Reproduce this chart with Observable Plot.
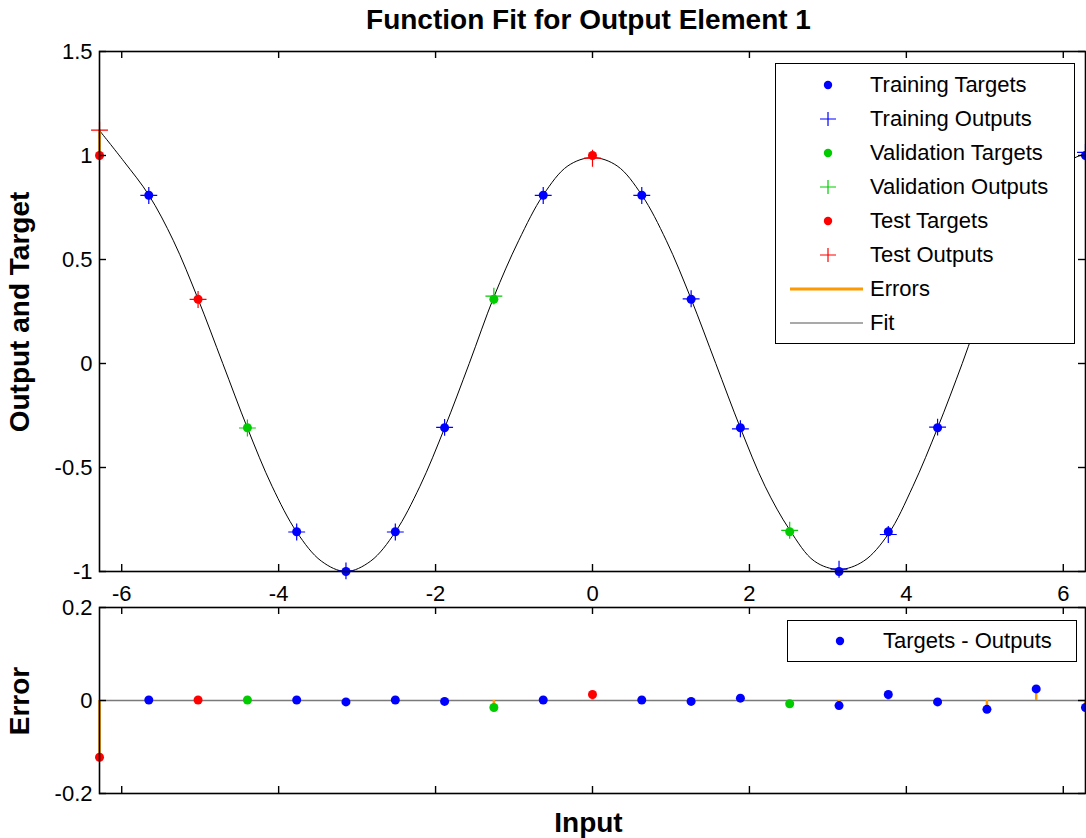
<!DOCTYPE html>
<html><head><meta charset="utf-8">
<script src="https://cdn.jsdelivr.net/npm/d3@7"></script>
<script src="https://cdn.jsdelivr.net/npm/@observablehq/plot@0.6"></script>
<style>
body{margin:0;background:#fff;font-family:"Liberation Sans",Arial,Helvetica,sans-serif;}
#wrap{position:relative;width:1086px;height:838px;overflow:hidden;background:#fff;}
.abs{position:absolute;}
.big{font-size:28px;font-weight:bold;line-height:28px;white-space:nowrap;color:#000;}
.rot{transform:rotate(-90deg);text-align:center;}
.legend{position:absolute;background:#fff;border:1.5px solid #000;box-sizing:border-box;font-size:22px;color:#000;}
.row{position:absolute;left:0;height:34px;width:100%;}
.row svg{position:absolute;left:0;top:0;}
.row span{position:absolute;line-height:34px;top:0;white-space:nowrap;}
</style></head><body><div id="wrap"></div>
<script>
// ---- data ----
const inputs = [-6.283, -5.655, -5.027, -4.398, -3.770, -3.142, -2.513, -1.885, -1.257, -0.628, 0, 0.628, 1.257, 1.885, 2.513, 3.142, 3.770, 4.398, 5.027, 5.655, 6.283];
const targets = [1, 0.809, 0.309, -0.309, -0.809, -1, -0.809, -0.309, 0.309, 0.809, 1, 0.809, 0.309, -0.309, -0.809, -1, -0.809, -0.309, 0.309, 0.809, 1];
const errors = [-0.122, 0.001, 0.001, 0.001, 0.001, -0.003, 0.001, -0.002, -0.015, 0.001, 0.013, 0.001, -0.002, 0.005, -0.007, -0.011, 0.013, -0.003, -0.019, 0.025, -0.015];
const subsets = ["Test","Training","Test","Validation","Training","Training","Training","Training","Validation","Training","Test","Training","Training","Training","Validation","Training","Training","Training","Training","Training","Training"];
const fitInputs = [-6.283, -5.969, -5.655, -5.341, -5.027, -4.712, -4.398, -4.084, -3.770, -3.456, -3.142, -2.827, -2.513, -2.199, -1.885, -1.571, -1.257, -0.942, -0.628, -0.314, 0, 0.314, 0.628, 0.942, 1.257, 1.571, 1.885, 2.199, 2.513, 2.827, 3.142, 3.456, 3.770, 4.084, 4.398, 4.712, 5.027, 5.341, 5.655, 5.969, 6.283];
const fitOutputs = [1.12, 0.97, 0.81, 0.59, 0.31, 0.00, -0.31, -0.59, -0.81, -0.95, -1.00, -0.95, -0.81, -0.59, -0.31, 0.00, 0.32, 0.59, 0.81, 0.95, 0.99, 0.95, 0.81, 0.59, 0.31, 0.00, -0.31, -0.59, -0.80, -0.95, -0.99, -0.95, -0.82, -0.59, -0.31, 0.00, 0.33, 0.60, 0.78, 0.95, 1.01];
const subsetNames = ["Training", "Validation", "Test"];
const subsetColors = ["#0000ff", "#00cc00", "#ff0000"];
const errorColor = "#ff9900";
const xTicks = [-6, -4, -2, 0, 2, 4, 6];
const yTicksTop = [-1, -0.5, 0, 0.5, 1, 1.5];
const yTicksBottom = [-0.2, 0, 0.2];
const xDomain = [-6.2832, 6.2832];

const rows = inputs.map((x, i) => ({x, target: targets[i], error: errors[i], output: targets[i] - errors[i], subset: subsets[i]}));
const fit = fitInputs.map((x, i) => ({x, y: fitOutputs[i]}));

const FONT = '"Liberation Sans", Arial, Helvetica, sans-serif';
const fmt = d => String(d);
const colorScale = {domain: subsetNames, range: subsetColors};
const TS = 7;
const W = 1086, ML = 99, MR = 1;
const FW = W - ML - MR;

// inward tick marks on all four sides, plus labels on left (and bottom if asked)
function axes(yTicks, frameH, withXLabels) {
  const tk = {stroke: "#000", strokeWidth: 1.4};
  return [
    withXLabels ? Plot.axisX({ticks: xTicks, anchor: "bottom", tickSize: 0, tickPadding: 14, tickFormat: fmt, label: null}) : null,
    Plot.axisY({ticks: yTicks, anchor: "left", tickSize: 0, tickPadding: 7, tickFormat: fmt, label: null}),
    Plot.tickX(xTicks, {x: d => d, insetTop: frameH - TS, ...tk}),
    Plot.tickX(xTicks, {x: d => d, insetBottom: frameH - TS, ...tk}),
    Plot.tickY(yTicks, {y: d => d, insetRight: FW - TS, ...tk}),
    Plot.tickY(yTicks, {y: d => d, insetLeft: FW - TS, ...tk})
  ];
}

const TOP = {h: 565, mt: 11, mb: 34};
const BOT = {h: 195, mt: 2, mb: 7};

const topPlot = Plot.plot({
  width: W, height: TOP.h,
  marginLeft: ML, marginRight: MR, marginTop: TOP.mt, marginBottom: TOP.mb,
  x: {domain: xDomain, label: null},
  y: {domain: [-1, 1.5], label: null},
  color: colorScale,
  style: {fontSize: "22px", fontFamily: FONT, background: "transparent", overflow: "visible", color: "#000"},
  marks: [
    Plot.line(fit, {x: "x", y: "y", stroke: "#000", strokeWidth: 1, curve: "catmull-rom"}),
    Plot.ruleX(rows, {x: "x", y1: "target", y2: "output", stroke: errorColor, strokeWidth: 2.5}),
    Plot.dot(rows, {x: "x", y: "target", fill: "subset", r: 4.5}),
    Plot.dot(rows, {x: "x", y: "output", stroke: "subset", symbol: "plus", r: 5.5, strokeWidth: 1.2}),
    ...axes(yTicksTop, TOP.h - TOP.mt - TOP.mb, true),
    Plot.frame({stroke: "#000", strokeWidth: 1.6})
  ]
});

const bottomPlot = Plot.plot({
  width: W, height: BOT.h,
  marginLeft: ML, marginRight: MR, marginTop: BOT.mt, marginBottom: BOT.mb,
  x: {domain: xDomain, label: null, axis: null},
  y: {domain: [-0.2, 0.2], label: null},
  color: colorScale,
  style: {fontSize: "22px", fontFamily: FONT, background: "transparent", overflow: "visible", color: "#000"},
  marks: [
    Plot.ruleY([0], {stroke: "#7a7a7a", strokeWidth: 1.6}),
    Plot.ruleX(rows, {x: "x", y1: 0, y2: "error", stroke: errorColor, strokeWidth: 2.5}),
    Plot.dot(rows, {x: "x", y: "error", fill: "subset", r: 4.5}),
    ...axes(yTicksBottom, BOT.h - BOT.mt - BOT.mb, false),
    Plot.frame({stroke: "#000", strokeWidth: 1.6})
  ]
});

const wrap = document.getElementById("wrap");
function place(el, left, top) { el.classList.add("abs"); el.style.left = left + "px"; el.style.top = top + "px"; wrap.appendChild(el); return el; }
place(topPlot, 0, 40);
place(bottomPlot, 0, 605);

function textDiv(txt, cls, left, top, width) {
  const d = document.createElement("div");
  d.className = cls; d.textContent = txt;
  d.style.width = width + "px";
  return place(d, left, top);
}
const t = textDiv("Function Fit for Output Element 1", "big", 92, 6, 993); t.style.textAlign = "center";
const xl = textDiv("Input", "big", 92, 809, 993); xl.style.textAlign = "center";
function rotLabel(txt, cx, cy) {
  const BW = 400;
  const d = textDiv(txt, "big rot", cx - BW / 2, cy - 14, BW);
  d.style.height = "28px";
}
rotLabel("Output and Target", 20, 312);
rotLabel("Error", 20, 701);

// ---- legends ----
const NS = "http://www.w3.org/2000/svg";
function glyph(kind, color) {
  const s = document.createElementNS(NS, "svg");
  s.setAttribute("width", 90); s.setAttribute("height", 34);
  let inner = "";
  if (kind === "dot") inner = `<circle cx="52" cy="17" r="4.2" fill="${color}"/>`;
  if (kind === "plus") inner = `<path d="M44,17H60M52,10V24" stroke="${color}" stroke-width="1.2" fill="none"/>`;
  if (kind === "line") inner = `<line x1="14" x2="87" y1="17" y2="17" stroke="${color}" stroke-width="3"/>`;
  if (kind === "thin") inner = `<line x1="14" x2="87" y1="17" y2="17" stroke="#555" stroke-width="1.2"/>`;
  s.innerHTML = inner;
  return s;
}
function legend(items, left, top, width, height, textX, padTop) {
  const box = document.createElement("div");
  box.className = "legend";
  box.style.width = width + "px"; box.style.height = height + "px";
  place(box, left, top);
  items.forEach((it, i) => {
    const r = document.createElement("div");
    r.className = "row"; r.style.top = (padTop + i * 34) + "px";
    r.appendChild(glyph(it.kind, it.color));
    const sp = document.createElement("span");
    sp.textContent = it.label; sp.style.left = textX + "px";
    r.appendChild(sp);
    box.appendChild(r);
  });
}
legend([
  {kind: "dot", color: subsetColors[0], label: "Training Targets"},
  {kind: "plus", color: subsetColors[0], label: "Training Outputs"},
  {kind: "dot", color: subsetColors[1], label: "Validation Targets"},
  {kind: "plus", color: subsetColors[1], label: "Validation Outputs"},
  {kind: "dot", color: subsetColors[2], label: "Test Targets"},
  {kind: "plus", color: subsetColors[2], label: "Test Outputs"},
  {kind: "line", color: errorColor, label: "Errors"},
  {kind: "thin", color: "#000", label: "Fit"}
], 775, 63, 300, 281, 94, 4);
legend([
  {kind: "dot", color: subsetColors[0], label: "Targets - Outputs"}
], 787, 620, 290, 42, 95, 3);
</script></body></html>
